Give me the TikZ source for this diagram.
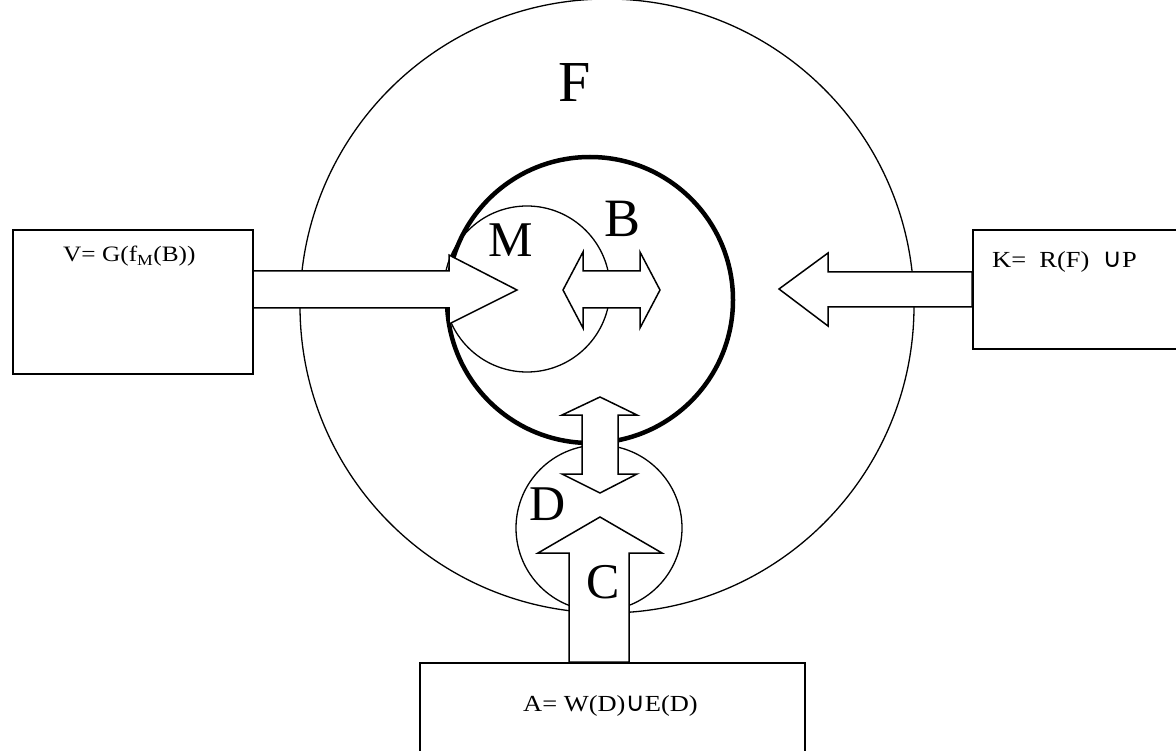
\documentclass[tikz,border=0pt]{standalone}
\usepackage{fontspec}
\setmainfont{Liberation Serif}
\newfontfamily\widefont[FakeStretch=1.15]{Liberation Serif}
\newfontfamily\unionfont{DejaVu Sans}
\newcommand{\myunion}{{\unionfont\fontsize{1.15em}{1em}\selectfont ∪}}
\begin{document}
\begin{tikzpicture}[x=1pt,y=-1pt,
  thin line/.style={line width=1.3pt},
  arrowshape/.style={draw,line width=1.5pt,fill=white,line join=miter},
  boxshape/.style={draw,line width=1.7pt,fill=white},
  biglabel/.style={anchor=base west,inner sep=0pt,font=\fontsize{50}{50}\selectfont},
  formula/.style={anchor=base west,inner sep=0pt}]
\useasboundingbox (0,0) rectangle (1176,751);
\clip (0,0) rectangle (1176,751);
% circles
\draw[thin line] (607,306) circle[radius=307];
\node[draw,circle,line width=4.5pt,minimum size=286pt,inner sep=0pt] (B) at (590,300) {};
\node[draw,circle,line width=1.3pt,minimum size=166pt,inner sep=0pt] (M) at (527,289) {};
\node[draw,circle,line width=1.3pt,minimum size=166pt,inner sep=0pt] (D) at (599,528) {};
% arrows
\draw[arrowshape] (252,271) -- (449,271) -- (449,255) -- (517,290) -- (449,324) -- (449,308) -- (252,308) -- cycle;
\draw[arrowshape] (972,272) -- (828,272) -- (828,253) -- (779,289) -- (828,326) -- (828,307) -- (972,307) -- cycle;
\draw[arrowshape] (563,290) -- (583,252) -- (583,271) -- (640,271) -- (640,252) -- (660,290) -- (640,328) -- (640,308) -- (583,308) -- (583,328) -- cycle;
\draw[arrowshape] (600,397) -- (637,415) -- (618,415) -- (618,474) -- (637,474) -- (600,493) -- (562,474) -- (582,474) -- (582,415) -- (562,415) -- cycle;
\draw[arrowshape] (600,517) -- (662,553) -- (629,553) -- (629,662) -- (569,662) -- (569,553) -- (538,553) -- cycle;
% boxes
\node[boxshape,minimum width=240pt,minimum height=144pt,anchor=north west] (V) at (12,229) {};
\node[boxshape,minimum width=240pt,minimum height=119pt,anchor=north west] (K) at (972,229) {};
\node[boxshape,minimum width=385pt,minimum height=120pt,anchor=north west] (A) at (419,662) {};
% labels
\node[biglabel,font=\fontsize{58}{58}\selectfont] (lF) at (558,102) {F};
\node[biglabel] (lM) at (488,257) {M};
\node[biglabel,font=\fontsize{54}{54}\selectfont] (lB) at (604,237) {B};
\node[biglabel] (lD) at (529,520) {D};
\node[biglabel] (lC) at (586,598) {C};
\node[formula,font=\widefont\fontsize{22}{22}\selectfont] (tV) at (63,262) {V= G(f\textsubscript{M}(B))};
\node[formula,font=\widefont\fontsize{23}{23}\selectfont] (tK) at (992,268) {K=\ \ R(F)\ \ \myunion P};
\node[formula,font=\widefont\fontsize{23}{23}\selectfont] (tA) at (523,711) {A= W(D)\myunion E(D)};
\end{tikzpicture}
\end{document}
